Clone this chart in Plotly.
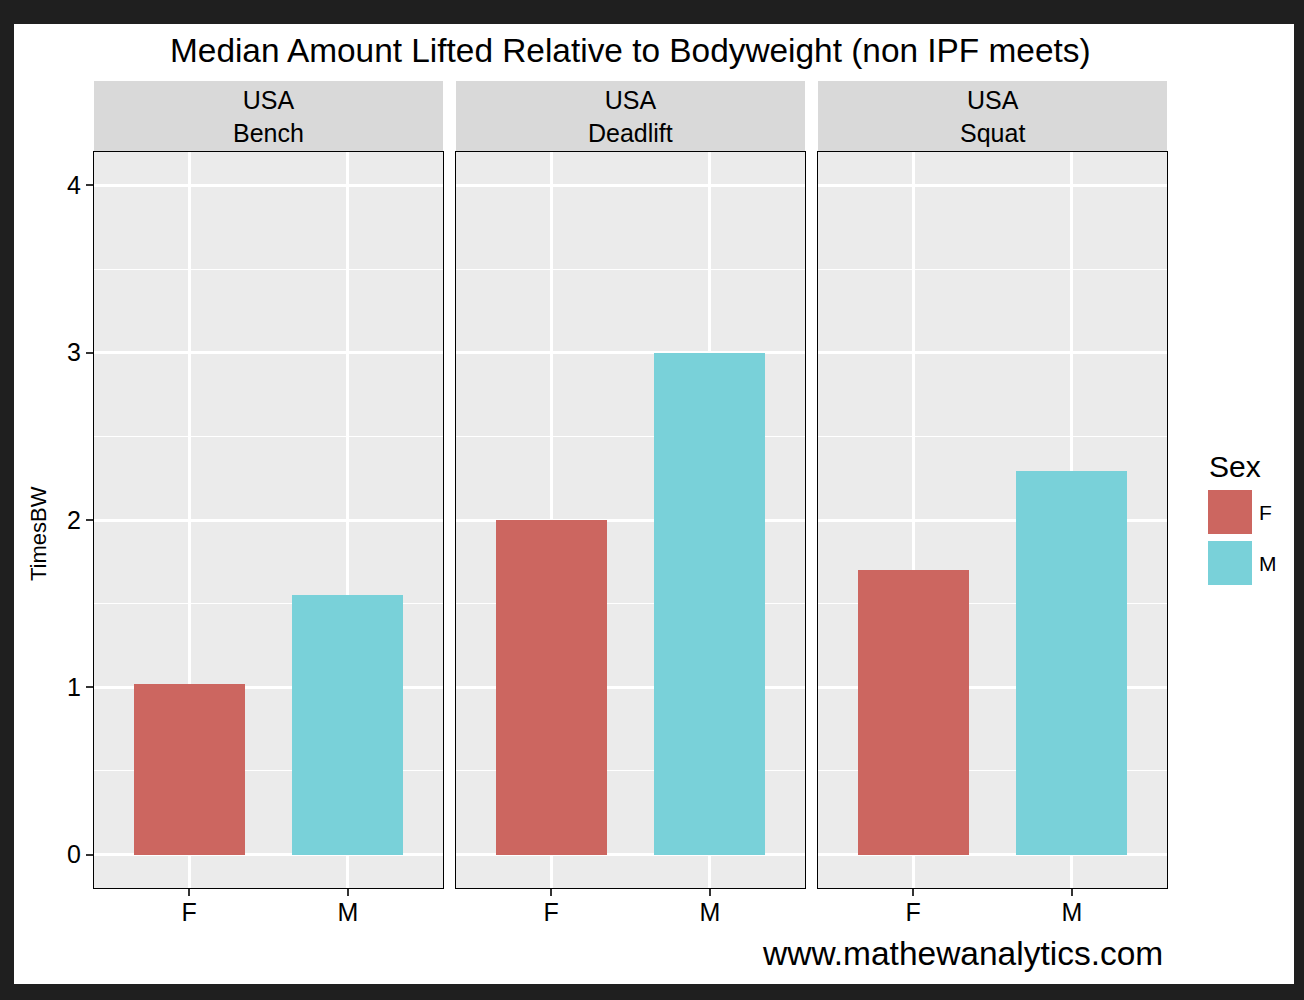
import plotly.graph_objects as go

# ---- data ----
lifts = ["Bench", "Deadlift", "Squat"]
country = "USA"
sexes = ["F", "M"]
times_bw = {
    "Bench": [1.02, 1.55],
    "Deadlift": [2.0, 3.0],
    "Squat": [1.7, 2.29],
}
sex_colors = ["#CC6660", "#79D1D9"]
y_ticks = [0, 1, 2, 3, 4]

FONT = "Liberation Sans, Arial, Helvetica, sans-serif"
W, H = 1304, 1000
ML, MR, MT, MB = 94, 137, 81, 112
PW = W - ML - MR
PH = H - MT - MB

def px_x(x):
    return (x - ML) / PW

def px_y(y):
    return (H - MB - y) / PH

fig = go.Figure()

domains = [(94, 443), (456, 805), (818, 1167)]
ytop = px_y(152)

for i, lift in enumerate(lifts):
    ax = "" if i == 0 else str(i + 1)
    fig.add_trace(go.Bar(
        x=sexes, y=times_bw[lift], width=0.7,
        marker=dict(color=sex_colors, line=dict(width=0)),
        xaxis="x" + ax, yaxis="y" + ax, showlegend=False,
        hoverinfo="x+y",
    ))
    d0, d1 = domains[i]
    xa = dict(
        domain=[px_x(d0), px_x(d1)], range=[-0.6, 1.6],
        type="category", categoryorder="array", categoryarray=sexes,
        showgrid=True, gridcolor="white", gridwidth=2.5,
        showline=True, mirror=True, linecolor="black", linewidth=1,
        ticks="outside", ticklen=7, tickwidth=2, tickcolor="#333333",
        ticklabelstandoff=-5,
        tickfont=dict(family=FONT, size=25, color="black"),
        zeroline=False, fixedrange=True,
        anchor="y" + ax,
    )
    ya = dict(
        domain=[0, ytop], range=[-0.2, 4.2],
        tickvals=y_ticks,
        showgrid=True, gridcolor="white", gridwidth=2.5,
        minor=dict(dtick=0.5, tick0=0, showgrid=True, gridcolor="white", gridwidth=1.2, ticks=""),
        showline=True, mirror=True, linecolor="black", linewidth=1,
        zeroline=False, fixedrange=True,
        anchor="x" + ax,
    )
    if i == 0:
        ya.update(ticks="outside", ticklen=7, tickwidth=2, tickcolor="#333333",
                  tickfont=dict(family=FONT, size=25, color="black"),
                  showticklabels=True)
    else:
        ya.update(ticks="", showticklabels=False, matches="y")
    fig.layout["xaxis" + ax] = xa
    fig.layout["yaxis" + ax] = ya

    # strip
    fig.add_shape(type="rect", xref="paper", yref="paper",
                  x0=px_x(d0), x1=px_x(d1), y0=px_y(152), y1=px_y(81),
                  fillcolor="#D9D9D9", line=dict(width=0), layer="below")
    cx = px_x((d0 + d1) / 2)
    fig.add_annotation(text=country + "<br>" + lift, x=cx, y=px_y(116.5),
                       xref="paper", yref="paper",
                       showarrow=False, xanchor="center", yanchor="middle",
                       borderpad=0,
                       font=dict(family=FONT, size=25, color="black"))

# title
fig.add_annotation(text="Median Amount Lifted Relative to Bodyweight (non IPF meets)",
                   x=px_x(630), y=px_y(50), xref="paper", yref="paper",
                   showarrow=False, xanchor="center", yanchor="middle",
                   font=dict(family=FONT, size=33.4, color="black"))
# y axis title
fig.add_annotation(text="TimesBW", x=px_x(38), y=px_y(534), xref="paper", yref="paper",
                   showarrow=False, xanchor="center", yanchor="middle", textangle=-90,
                   font=dict(family=FONT, size=22, color="black"))
# caption
fig.add_annotation(text="www.mathewanalytics.com", x=px_x(1165), y=px_y(953),
                   xref="paper", yref="paper", showarrow=False,
                   xanchor="right", yanchor="middle",
                   font=dict(family=FONT, size=33.5, color="black"))

# legend (drawn)
fig.add_annotation(text="Sex", x=px_x(1207), y=px_y(466), xref="paper", yref="paper",
                   showarrow=False, xanchor="left", yanchor="middle",
                   font=dict(family=FONT, size=30, color="black"))
key_tops = [490, 541]
for s, c, kt in zip(sexes, sex_colors, key_tops):
    fig.add_shape(type="rect", xref="paper", yref="paper",
                  x0=px_x(1208), x1=px_x(1252), y0=px_y(kt + 44), y1=px_y(kt),
                  fillcolor=c, line=dict(width=0))
    fig.add_annotation(text=s, x=px_x(1257), y=px_y(kt + 22), xref="paper", yref="paper",
                       showarrow=False, xanchor="left", yanchor="middle",
                       font=dict(family=FONT, size=21, color="black"))

# dark outer frame
frame = "#1F1F1F"
for (x0, x1, y0, y1) in [(0, W, 0, 24), (0, W, 984, H), (0, 14, 0, H), (1294, W, 0, H)]:
    fig.add_shape(type="rect", xref="paper", yref="paper",
                  x0=px_x(x0), x1=px_x(x1), y0=px_y(y1), y1=px_y(y0),
                  fillcolor=frame, line=dict(width=0), layer="above")

fig.update_layout(
    width=W, height=H,
    margin=dict(l=ML, r=MR, t=MT, b=MB, autoexpand=False),
    paper_bgcolor="white", plot_bgcolor="#EBEBEB",
    bargap=0, showlegend=False,
    font=dict(family=FONT, color="black"),
)

fig.write_html("out.html",
               config={"displayModeBar": False},
               post_script="document.body.style.margin='0';document.body.style.padding='0';"
                           "document.body.style.background='#1F1F1F';")
